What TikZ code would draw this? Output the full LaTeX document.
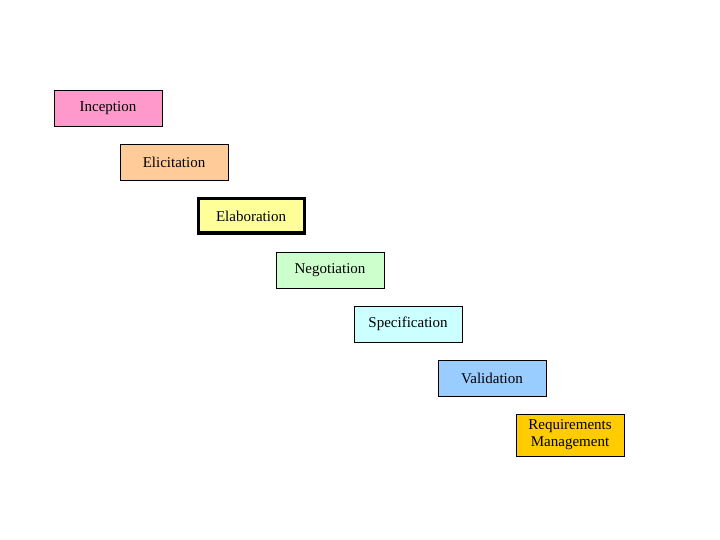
\documentclass[tikz,border=0pt]{standalone}
\usepackage{fontspec}
\setmainfont{Liberation Serif}
\begin{document}
\begin{tikzpicture}[x=1pt,y=-1pt,
  phase/.style={draw=black,line width=0.8pt,minimum width=108pt,minimum height=36pt,inner sep=1pt,align=center,font=\fontsize{15}{17}\selectfont}]
\useasboundingbox (0,0) rectangle (720,540);
\node[phase,fill={rgb,255:red,255;green,153;blue,204}] (a) at (108,108) {Inception};
\node[phase,fill={rgb,255:red,255;green,204;blue,153}] (b) at (174,162) {Elicitation};
\node[phase,fill={rgb,255:red,255;green,255;blue,153},line width=3pt,minimum width=106pt,minimum height=34pt] (c) at (251,216) {Elaboration};
\node[phase,fill={rgb,255:red,204;green,255;blue,204}] (d) at (330,270) {Negotiation};
\node[phase,fill={rgb,255:red,204;green,255;blue,255}] (e) at (408,324) {Specification};
\node[phase,fill={rgb,255:red,153;green,204;blue,255}] (f) at (492,378) {Validation};
\node[phase,fill={rgb,255:red,255;green,204;blue,0},minimum height=42pt] (g) at (570,435) {Requirements\\Management};
\end{tikzpicture}
\end{document}
